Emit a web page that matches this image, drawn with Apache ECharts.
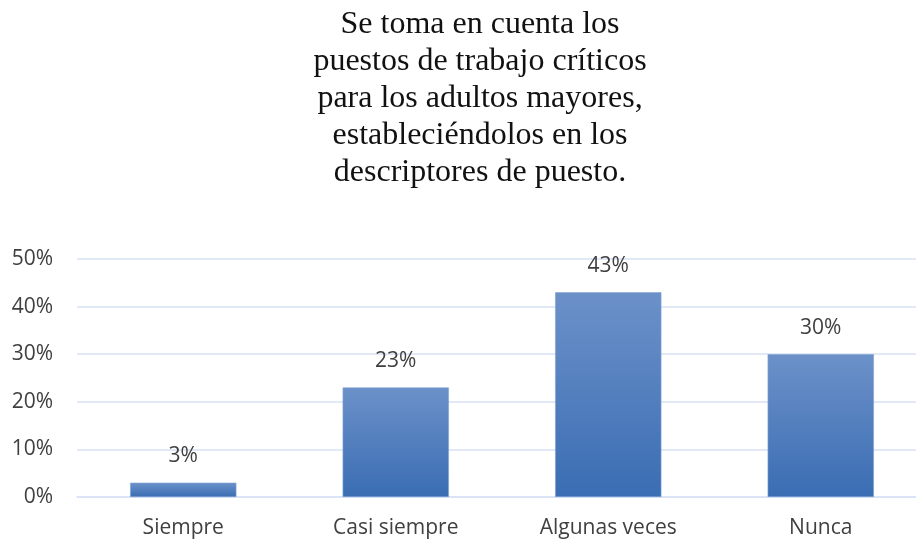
<!DOCTYPE html>
<html>
<head>
<meta charset="utf-8">
<script src="https://cdn.jsdelivr.net/npm/echarts@6/dist/echarts.min.js"></script>
<style>
  html, body { margin: 0; padding: 0; background: #ffffff; }
  #chart { width: 916px; height: 542px; }
</style>
</head>
<body>
<div id="chart"></div>
<script>
// Survey answers and their share of respondents (percent)
const categories = ['Siempre', 'Casi siempre', 'Algunas veces', 'Nunca'];
const percentages = [3, 23, 43, 30];
const yTicks = { min: 0, max: 50, interval: 10 };
const titleLines = [
  'Se toma en cuenta los',
  'puestos de trabajo críticos',
  'para los adultos mayores,',
  'estableciéndolos en los',
  'descriptores de puesto.'
];

const labelFont = '"Open Sans", "Noto Sans", sans-serif';
const chart = echarts.init(document.getElementById('chart'), null, { renderer: 'canvas' });

chart.setOption({
  backgroundColor: '#ffffff',
  animation: false,
  title: {
    text: titleLines.join('\n'),
    left: 475,
    textAlign: 'center',
    top: 1,
    textStyle: {
      fontFamily: '"Liberation Serif", "Times New Roman", serif',
      fontSize: 32,
      fontWeight: 'normal',
      lineHeight: 37,
      color: '#111111'
    }
  },
  grid: {
    left: 77,
    width: 850,
    top: 259,
    bottom: 45,
    containLabel: false,
    outerBoundsMode: 'none'
  },
  xAxis: {
    type: 'category',
    data: categories,
    axisLine: { lineStyle: { color: '#D9E2F3', width: 1.5 } },
    axisTick: { show: false },
    axisLabel: {
      margin: 21,
      fontFamily: labelFont,
      fontSize: 21,
      color: '#404040'
    }
  },
  yAxis: {
    type: 'value',
    min: yTicks.min,
    max: yTicks.max,
    interval: yTicks.interval,
    axisLine: { show: false },
    axisTick: { show: false },
    splitLine: { lineStyle: { color: '#D9E2F3', width: 1.5 } },
    axisLabel: {
      formatter: '{value}%',
      margin: 24,
      fontFamily: labelFont,
      fontSize: 21,
      color: '#404040'
    }
  },
  series: [{
    type: 'bar',
    data: percentages,
    barWidth: '50%',
    itemStyle: {
      color: new echarts.graphic.LinearGradient(0, 0, 0, 1, [
        { offset: 0, color: '#6C91C9' },
        { offset: 1, color: '#3A6DB3' }
      ]),
      borderColor: '#7FA2D4',
      borderWidth: 0.6
    },
    label: {
      show: true,
      position: 'top',
      distance: 16,
      formatter: '{c}%',
      fontFamily: labelFont,
      fontSize: 21,
      color: '#404040'
    }
  }]
});
</script>
</body>
</html>
